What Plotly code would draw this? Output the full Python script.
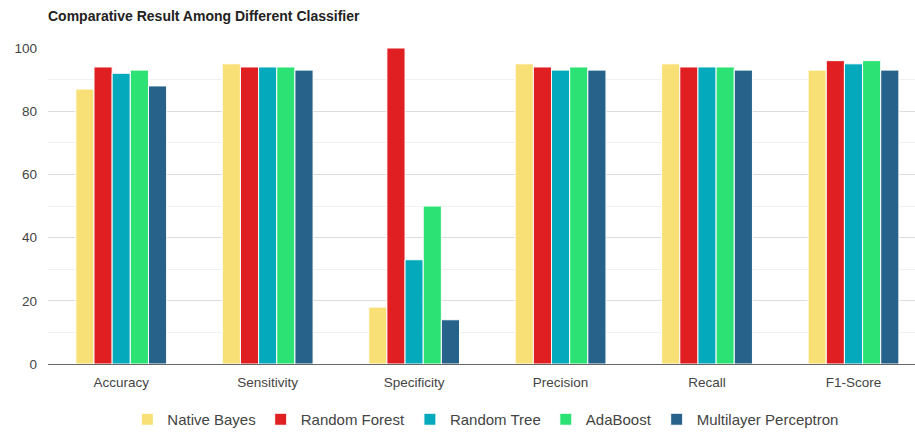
import plotly.graph_objects as go

# Metrics compared across classifiers (percent)
metrics = ["Accuracy", "Sensitivity", "Specificity", "Precision", "Recall", "F1-Score"]
classifiers = ["Native Bayes", "Random Forest", "Random Tree", "AdaBoost", "Multilayer Perceptron"]

native_bayes = [87, 95, 18, 95, 95, 93]
random_forest = [94, 94, 100, 94, 94, 96]
random_tree = [92, 94, 33, 93, 94, 95]
adaboost = [93, 94, 50, 94, 94, 96]
multilayer_perceptron = [88, 93, 14, 93, 93, 93]

series = [native_bayes, random_forest, random_tree, adaboost, multilayer_perceptron]
colors = ["#F8E076", "#E01F22", "#04AABB", "#2DE274", "#27628B"]

fig = go.Figure()
for name, vals, col in zip(classifiers, series, colors):
    fig.add_trace(go.Bar(
        x=metrics, y=vals, name=name,
        marker=dict(color=col, line=dict(color="white", width=1)),
    ))

fig.update_layout(
    width=915, height=436,
    margin=dict(l=48, r=0, t=48, b=72),
    paper_bgcolor="white", plot_bgcolor="white",
    barmode="group", bargap=0.38, bargroupgap=0,
    font=dict(family="Liberation Sans, Arial, sans-serif", size=13, color="#444"),
    title=dict(
        text="<b>Comparative Result Among Different Classifier</b>",
        x=48 / 915, xanchor="left", y=1 - 16 / 436, yanchor="middle",
        font=dict(size=14, color="#222"),
    ),
    legend=dict(
        orientation="h", x=0.505, xanchor="center",
        y=-(436 - 364) / 316, yanchor="bottom",
        font=dict(size=15, color="#444"), itemwidth=30,
    ),
    xaxis=dict(
        range=[-0.5, 5.42], showgrid=False, ticks="",
        showline=False, tickfont=dict(size=13.5, color="#444"),
        ticklabelstandoff=8,
    ),
    yaxis=dict(
        range=[0, 100], dtick=20, showgrid=True, gridcolor="#dcdcdc",
        gridwidth=1, zeroline=True, zerolinecolor="#666", zerolinewidth=1,
        tickfont=dict(size=13.5, color="#444"), ticks="", ticklabelstandoff=10,
        minor=dict(dtick=10, showgrid=True, gridcolor="#f0f0f0"),
    ),
)

fig.write_html("out.html")
